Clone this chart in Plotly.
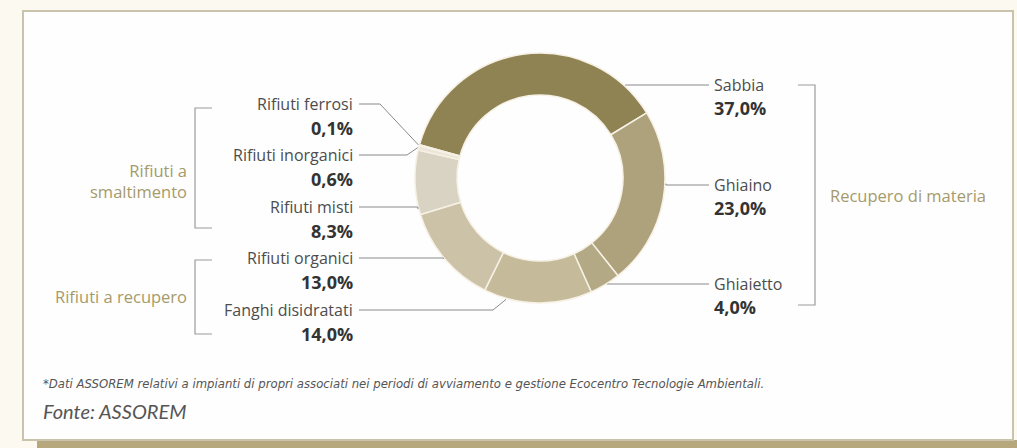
import math
import plotly.graph_objects as go

# ---------------- data ----------------
labels = ["Sabbia", "Ghiaino", "Ghiaietto", "Fanghi disidratati",
          "Rifiuti organici", "Rifiuti misti", "Rifiuti inorganici", "Rifiuti ferrosi"]
values = [37.0, 23.0, 4.0, 14.0, 13.0, 8.3, 0.6, 0.1]
pct_text = ["37,0%", "23,0%", "4,0%", "14,0%", "13,0%", "8,3%", "0,6%", "0,1%"]
group_left_1 = "Rifiuti a<br>smaltimento"
group_left_2 = "Rifiuti a recupero"
group_right = "Recupero di materia"
footnote = ("*Dati ASSOREM relativi a impianti di propri associati nei periodi di "
            "avviamento e gestione Ecocentro Tecnologie Ambientali.")
source = "Fonte: ASSOREM"

# ---------------- style / layout ----------------
W, H = 1017, 448
colors = ["#8f8354", "#ada27c", "#b3a985", "#c5bb9b", "#cbc2a8", "#d9d3c3", "#ebe6d9", "#e2dccb"]
CX, CY, R = 540, 178, 125
HOLE = 0.664
ROTATION = -74.6
side = ["right", "right", "right", "left", "left", "left", "left", "left"]
label_y = [85, 185, 284, 310, 258, 207, 155, 104]
anchor_frac = [0.88, 0.41, 0.43, 0.79, 0.51, 0.09, 0.5, 0.5]
kink_x = [None, None, None, 493, None, None, 407, 380]
LEFT_TEXT_X, RIGHT_TEXT_X = 355, 712
LINE_COLOR = "#8a8a8a"
NAME_FONT = dict(family="Open Sans", size=16, color="#4d4d4d")
PCT_FONT = dict(family="Open Sans", size=18, color="#333333")


def px(x):
    return x / W


def py(y):
    return 1 - y / H


fig = go.Figure()
fig.add_trace(go.Pie(
    labels=labels, values=values, sort=False, direction="clockwise",
    rotation=ROTATION, hole=HOLE, textinfo="none", hoverinfo="label+value",
    marker=dict(colors=colors, line=dict(color="#f6f1e4", width=1.5)),
    domain=dict(x=[px(CX - R), px(CX + R)], y=[py(CY + R), py(CY - R)]),
    showlegend=False,
))

shapes = []
annotations = []

# background box + shadow
shapes.append(dict(type="rect", xref="paper", yref="paper", layer="below",
                   x0=px(37), x1=px(1017), y0=py(448), y1=py(440),
                   fillcolor="#b6a77c", line=dict(width=0)))
shapes.append(dict(type="rect", xref="paper", yref="paper", layer="below",
                   x0=px(23), x1=px(1013), y0=py(440), y1=py(11),
                   fillcolor="#fefefe", line=dict(color="#c8c3aa", width=2)))

# leader lines computed from slice geometry
total = sum(values)
start = ROTATION
for i, v in enumerate(values):
    span = v / total * 360
    ang = math.radians(start + anchor_frac[i] * span)
    start += span
    ax = CX + (R + 1) * math.sin(ang)
    ay = CY - (R + 1) * math.cos(ang)
    y = label_y[i]
    if side[i] == "left":
        tx = LEFT_TEXT_X + 4
    else:
        tx = RIGHT_TEXT_X - 3
    kx = kink_x[i] if kink_x[i] is not None else ax
    path = f"M {px(tx)},{py(y)} L {px(kx)},{py(y)} L {px(ax)},{py(ay)}"
    shapes.append(dict(type="path", xref="paper", yref="paper", path=path,
                       line=dict(color=LINE_COLOR, width=1)))
    if side[i] == "left":
        annotations.append(dict(x=px(LEFT_TEXT_X), y=py(y), xanchor="right", yanchor="middle",
                                text=labels[i], showarrow=False, font=NAME_FONT))
        annotations.append(dict(x=px(LEFT_TEXT_X), y=py(y + 24), xanchor="right", yanchor="middle",
                                text=f"<b>{pct_text[i]}</b>", showarrow=False, font=PCT_FONT))
    else:
        annotations.append(dict(x=px(RIGHT_TEXT_X), y=py(y), xanchor="left", yanchor="middle",
                                text=labels[i], showarrow=False, font=NAME_FONT))
        annotations.append(dict(x=px(RIGHT_TEXT_X), y=py(y + 23), xanchor="left", yanchor="middle",
                                text=f"<b>{pct_text[i]}</b>", showarrow=False, font=PCT_FONT))

# brackets
BR_COLOR = "#9a9a9a"


def bracket(x, y0, y1, tick):
    return dict(type="path", xref="paper", yref="paper",
                path=f"M {px(x + tick)},{py(y0)} L {px(x)},{py(y0)} L {px(x)},{py(y1)} L {px(x + tick)},{py(y1)}",
                line=dict(color=BR_COLOR, width=1.2))


shapes.append(bracket(195, 108, 228, 17))
shapes.append(bracket(195, 260, 334, 17))
shapes.append(bracket(815, 85, 305, -17))

GOLD = "#a59a6b"
GROUP_FONT = dict(family="Open Sans", size=16.5, color=GOLD)
annotations.append(dict(x=px(189), y=py(181), xanchor="right", yanchor="middle", align="right",
                        text=group_left_1, showarrow=False, font=GROUP_FONT))
annotations.append(dict(x=px(189), y=py(296), xanchor="right", yanchor="middle",
                        text=group_left_2, showarrow=False, font=GROUP_FONT))
annotations.append(dict(x=px(828), y=py(195), xanchor="left", yanchor="middle",
                        text=group_right, showarrow=False, font=GROUP_FONT))

annotations.append(dict(x=px(41), y=py(384), xanchor="left", yanchor="middle",
                        text=f"<i>{footnote}</i>", showarrow=False,
                        font=dict(family="DejaVu Sans", size=11.7, color="#555555")))
annotations.append(dict(x=px(41), y=py(411), xanchor="left", yanchor="middle",
                        text=f"<i>{source}</i>", showarrow=False,
                        font=dict(family="Lato", size=20, color="#555555")))

fig.update_layout(
    width=W, height=H, margin=dict(l=0, r=0, t=0, b=0),
    paper_bgcolor="#fcf9f1", plot_bgcolor="#fcf9f1",
    shapes=shapes, annotations=annotations,
)

fig.write_html("out.html")
